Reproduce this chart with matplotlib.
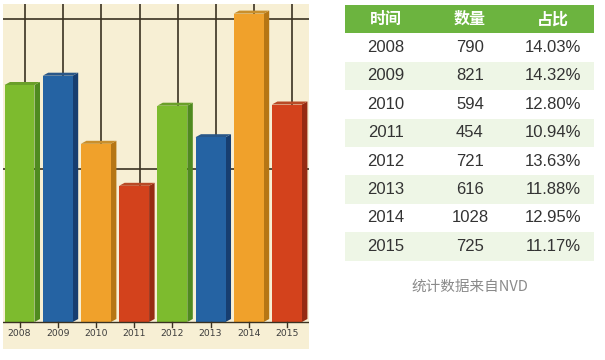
import matplotlib
matplotlib.use("Agg")
import matplotlib.pyplot as plt
from matplotlib.patches import Polygon, Rectangle

plt.rcParams['font.family'] = ['Liberation Sans', 'Noto Sans CJK SC', 'DejaVu Sans']

# data
years = ['2008', '2009', '2010', '2011', '2012', '2013', '2014', '2015']
counts = [790, 821, 594, 454, 721, 616, 1028, 725]
shares = ['14.03%', '14.32%', '12.80%', '10.94%', '13.63%', '11.88%', '12.95%', '11.17%']
headers = ['时间', '数量', '占比']
caption = '统计数据来自NVD'

# face colours: front, side, top
palette = [
    ('#7dbb2e', '#4f8a1f', '#6a9f2a'),
    ('#2563a3', '#173e70', '#2a5788'),
    ('#f0a12b', '#b67614', '#c98f2c'),
    ('#d3421c', '#962b12', '#b84a26'),
]

fig = plt.figure(figsize=(6.05, 3.6), dpi=100)
W, H = 605, 360

# ---- 3d-ish bar chart ----
ax = fig.add_axes([3 / W, (H - 349) / H, 306 / W, 345 / H])
ax.set_facecolor('#f7efd4')
ax.set_xlim(-0.432, 7.578)
ax.set_ylim(-90, 1060)
for s in ax.spines.values():
    s.set_visible(False)
ax.set_xticks([])
ax.set_yticks([])

bw = 0.785
dx, dy = 0.144, 10   # depth offset

# back wall grid
for g in (500, 1000):
    ax.axhline(g + dy, color='#3a3222', lw=1.2, zorder=1)
for i in range(len(years)):
    ax.plot([i + dx, i + dx], [dy, 1060], color='#3a3222', lw=1.2, zorder=1)

for i, v in enumerate(counts):
    front, side, top = palette[i % 4]
    x0, x1 = i - bw / 2, i + bw / 2
    ax.bar(i, v, width=bw, color=front, zorder=3, linewidth=0)
    ax.add_patch(Polygon([(x1, 0), (x1 + dx, dy), (x1 + dx, v + dy), (x1, v)],
                         closed=True, facecolor=side, edgecolor='none', zorder=2))
    ax.add_patch(Polygon([(x0, v), (x0 + dx, v + dy), (x1 + dx, v + dy), (x1, v)],
                         closed=True, facecolor=top, edgecolor='none', zorder=2))
    ax.plot([i, i], [0, -17], color='#3a3222', lw=1.0, zorder=4)
    ax.text(i, -40, years[i], ha='center', va='center', fontsize=6.7,
            family='DejaVu Sans', color='#3c3c3c', zorder=4)

ax.axhline(0, color='#3a3222', lw=1.0, zorder=4)

# ---- table ----
tx = fig.add_axes([330 / W, 0, 275 / W, 1])
tx.set_xlim(330, 605)
tx.set_ylim(360, 0)
tx.axis('off')

left, right = 345, 594
top_y, row_h = 5, 28.4
col_x = [386, 470, 553]

tx.add_patch(Rectangle((left, top_y), right - left, row_h, facecolor='#6cb43f',
                       edgecolor='none'))
for c, h in enumerate(headers):
    tx.text(col_x[c], top_y + row_h / 2, h, ha='center', va='center',
            fontsize=11.5, color='white', fontweight='bold',
            family=['Noto Sans CJK SC', 'DejaVu Sans'])

for r in range(len(years)):
    y0 = top_y + row_h * (r + 1)
    if r % 2 == 1:
        tx.add_patch(Rectangle((left, y0), right - left, row_h,
                               facecolor='#eef6e6', edgecolor='none'))
    yc = y0 + row_h / 2
    for c, val in enumerate([years[r], str(counts[r]), shares[r]]):
        tx.text(col_x[c], yc, val, ha='center', va='center', fontsize=12,
                color='#333333')

tx.text(470, 287, caption, ha='center', va='center', fontsize=10.5,
        color='#8a8a8a', family=['Noto Sans CJK SC', 'DejaVu Sans'])

fig.savefig('out.png', dpi=100)
